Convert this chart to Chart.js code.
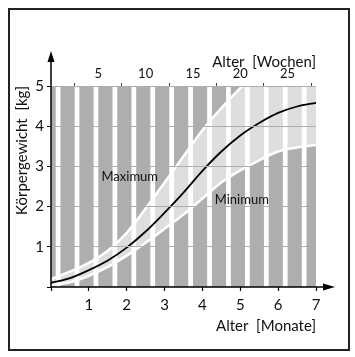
<!DOCTYPE html>
<html><head><meta charset="utf-8">
<script src="https://cdn.jsdelivr.net/npm/chart.js@4"></script>
<style>
html,body{margin:0;padding:0;background:#fff;}
#wrap{position:relative;width:355px;height:357px;}
#frame{position:absolute;left:8px;top:8px;width:338px;height:339px;border:2px solid #222;}
canvas{position:absolute;left:0;top:0;}
</style></head>
<body><div id="wrap"><div id="frame"></div><canvas id="c" width="355" height="357"></canvas></div>
<script>
// ---- data ----
const months = [0, 0.5, 1, 1.5, 2, 2.5, 3, 3.5, 4, 4.5, 5, 5.5, 6, 6.5, 7];
const median = [0.10, 0.22, 0.42, 0.66, 0.98, 1.38, 1.85, 2.35, 2.89, 3.37, 3.77, 4.08, 4.33, 4.49, 4.58];
const maximum = [0.20, 0.38, 0.60, 0.90, 1.35, 1.95, 2.60, 3.25, 3.90, 4.45, 4.95, 5.40, 5.80, 6.10, 6.30];
const minimum = [0.05, 0.12, 0.28, 0.50, 0.78, 1.10, 1.45, 1.80, 2.20, 2.60, 2.90, 3.15, 3.37, 3.47, 3.53];
const stripeGapWeeks = [0.5, 2.5, 4.5, 6.5, 8.5, 10.5, 12.5, 14.5, 16.5, 18.5, 20.5, 22.5, 24.5, 26.5];
const monthTicks = [0, 1, 2, 3, 4, 5, 6, 7];
const weekTicks = [5, 10, 15, 20, 25];
const kgTicks = [0, 1, 2, 3, 4, 5];
const yMax = 5;

const FONT = 'Lato, "Open Sans", sans-serif';
const DARK = '#aeaeae', LIGHT = '#dedede';

const pts = arr => months.map((m, i) => ({x: m, y: arr[i]}));

const arrows = {
  id: 'arrows',
  afterDraw(chart) {
    const {ctx, chartArea: a} = chart;
    ctx.save();
    ctx.strokeStyle = '#000'; ctx.fillStyle = '#000'; ctx.lineWidth = 1.5;
    ctx.beginPath();
    ctx.moveTo(a.left, a.bottom); ctx.lineTo(a.left, a.top - 28);
    ctx.moveTo(a.left, a.bottom); ctx.lineTo(a.right + 10, a.bottom);
    ctx.stroke();
    ctx.beginPath();
    ctx.moveTo(a.left, a.top - 35); ctx.lineTo(a.left - 3.5, a.top - 24); ctx.lineTo(a.left + 3.5, a.top - 24); ctx.closePath(); ctx.fill();
    ctx.beginPath();
    ctx.moveTo(a.right + 19, a.bottom); ctx.lineTo(a.right + 7, a.bottom - 3.5); ctx.lineTo(a.right + 7, a.bottom + 3.5); ctx.closePath(); ctx.fill();
    ctx.restore();
  }
};

const curveLabels = {
  id: 'curveLabels',
  afterDatasetsDraw(chart) {
    const {ctx, scales: {x, y}} = chart;
    ctx.save();
    ctx.font = '13px ' + FONT; ctx.fillStyle = '#111';
    ctx.textAlign = 'center'; ctx.textBaseline = 'middle';
    ctx.fillText('Maximum', x.getPixelForValue(2.08), y.getPixelForValue(2.74));
    ctx.fillText('Minimum', x.getPixelForValue(5.04), y.getPixelForValue(2.16));
    ctx.restore();
  }
};

new Chart(document.getElementById('c'), {
  type: 'line',
  data: {
    datasets: [
      {label: 'bg', data: [{x: 0, y: yMax}, {x: 7, y: yMax}], fill: 'origin', backgroundColor: DARK, borderWidth: 0, pointRadius: 0, order: 10},
      {label: 'band', data: pts(maximum), fill: {target: 4}, backgroundColor: LIGHT, borderWidth: 0, pointRadius: 0, cubicInterpolationMode: 'monotone', order: 9},
      {type: 'bar', label: 'gaps', xAxisID: 'x2', data: stripeGapWeeks.map(w => ({x: w, y: yMax})), backgroundColor: '#fff', borderWidth: 0, categoryPercentage: 0.5, barPercentage: 1, order: 8},
      {label: 'Maximum', data: pts(maximum), borderColor: '#fff', borderWidth: 2.5, pointRadius: 0, fill: false, cubicInterpolationMode: 'monotone', order: 7},
      {label: 'Minimum', data: pts(minimum), borderColor: '#fff', borderWidth: 2.5, pointRadius: 0, fill: false, cubicInterpolationMode: 'monotone', order: 6},
      {label: 'Median', data: pts(median), borderColor: '#000', borderWidth: 1.8, pointRadius: 0, fill: false, cubicInterpolationMode: 'monotone', order: 1}
    ]
  },
  options: {
    responsive: false, animation: false, devicePixelRatio: 1,
    layout: {padding: {left: 10, right: 39, top: 45, bottom: 20}},
    plugins: {legend: {display: false}, tooltip: {enabled: false}},
    scales: {
      x: {
        type: 'linear', position: 'bottom', min: 0, max: 7, offset: false,
        afterFit: s => { s.height = 50; },
        afterBuildTicks: s => { s.ticks = monthTicks.map(v => ({value: v})); },
        border: {display: false},
        grid: {drawOnChartArea: false, tickLength: 4, tickColor: '#000', tickWidth: 1.2},
        ticks: {padding: 5, color: '#111', font: {family: FONT, size: 15}, maxRotation: 0,
          callback: v => v === 0 ? '' : String(v)},
        title: {display: true, text: 'Alter  [Monate]', align: 'end', color: '#111',
          font: {family: FONT, size: 15}, padding: {top: 0, bottom: 2}}
      },
      x2: {
        type: 'linear', position: 'top', min: 0, max: 28, offset: false,
        afterFit: s => { s.height = 41; },
        afterBuildTicks: s => { s.ticks = weekTicks.map(v => ({value: v})); },
        border: {display: false},
        grid: {drawOnChartArea: false, tickLength: 3, tickColor: '#444'},
        ticks: {padding: 1, color: '#111', font: {family: FONT, size: 13}, maxRotation: 0},
        title: {display: true, text: 'Alter  [Wochen]', align: 'end', color: '#111',
          font: {family: FONT, size: 15}, padding: {top: 8, bottom: 0}}
      },
      y: {
        type: 'linear', min: 0, max: yMax,
        afterFit: s => { s.width = 41; },
        afterBuildTicks: s => { s.ticks = kgTicks.map(v => ({value: v})); },
        border: {display: false},
        grid: {z: 1, color: c => c.tick && c.tick.value > 0 ? DARK : 'rgba(0,0,0,0)', lineWidth: 1,
          tickLength: 4, tickColor: '#000', drawTicks: true},
        ticks: {padding: 3, color: '#111', font: {family: FONT, size: 15},
          callback: v => v === 0 ? '' : String(v)},
        title: {display: true, text: 'Körpergewicht  [kg]', align: 'end', color: '#111',
          font: {family: FONT, size: 15}, padding: {top: 3, bottom: 0}}
      }
    }
  },
  plugins: [curveLabels, arrows]
});
</script>
</body></html>
